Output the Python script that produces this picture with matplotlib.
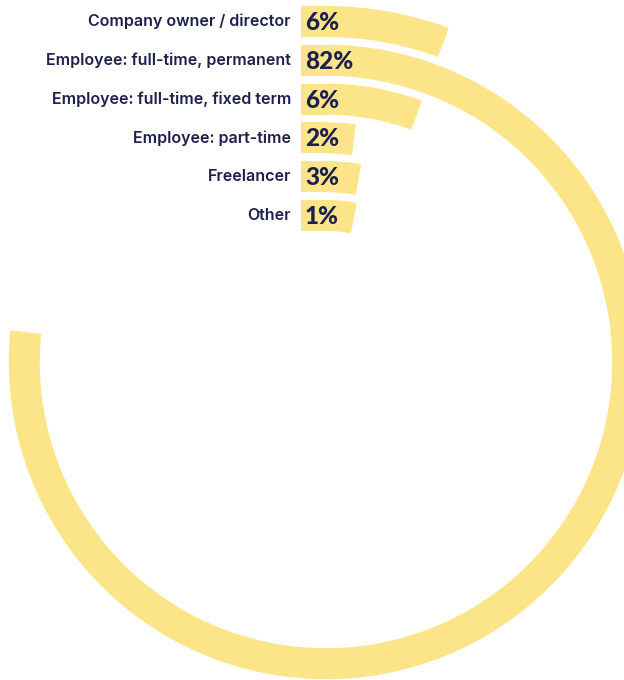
import numpy as np
import matplotlib
matplotlib.use("Agg")
import matplotlib.pyplot as plt
from matplotlib.patches import Wedge, Rectangle

# data
categories = ["Company owner / director", "Employee: full-time, permanent",
              "Employee: full-time, fixed term", "Employee: part-time",
              "Freelancer", "Other"]
values = [6, 82, 6, 2, 3, 1]
value_labels = ["6%", "82%", "6%", "2%", "3%", "1%"]

BAR_COLOR = "#FCE589"
TEXT_COLOR = "#1D1F4D"

# layout (pixel units)
W, H = 624, 680
cx, cy = 326, 362          # centre of the rings
x_start = 301              # where the bars begin (vertical edge)
r_outer0 = 356             # outer radius of the first ring
step = 38.8                # ring pitch
thick = 31                 # ring thickness
deg_per_pct = 3.362        # angular scale
min_arc_px = 28            # short bars still cover their label

fig = plt.figure(figsize=(W / 100, H / 100), dpi=100)
ax = fig.add_axes([0, 0, 1, 1])
ax.set_xlim(0, W)
ax.set_ylim(H, 0)
ax.set_aspect("equal")
ax.axis("off")

for i, (cat, v, lab) in enumerate(zip(categories, values, value_labels)):
    r_out = r_outer0 - i * step
    r_mid = r_out - thick / 2
    sweep = max(v * deg_per_pct, np.degrees(min_arc_px / r_mid))
    # y axis points down, so -90 is 12 o'clock and increasing theta goes clockwise
    ax.add_patch(Wedge((cx, cy), r_out, -90, -90 + sweep, width=thick,
                       facecolor=BAR_COLOR, edgecolor="none"))
    ax.add_patch(Rectangle((x_start, cy - r_out), cx - x_start + 0.5, thick,
                           facecolor=BAR_COLOR, edgecolor="none"))
    y = cy - r_mid
    ax.text(x_start - 10, y, cat, ha="right", va="center", fontsize=11.5,
            color=TEXT_COLOR, family="Inter", fontweight="semibold")
    ax.text(x_start + 4, y + 1, lab, ha="left", va="center", fontsize=17.5,
            color=TEXT_COLOR, family="Lato", fontweight="black")

fig.savefig("out.png", dpi=100)
